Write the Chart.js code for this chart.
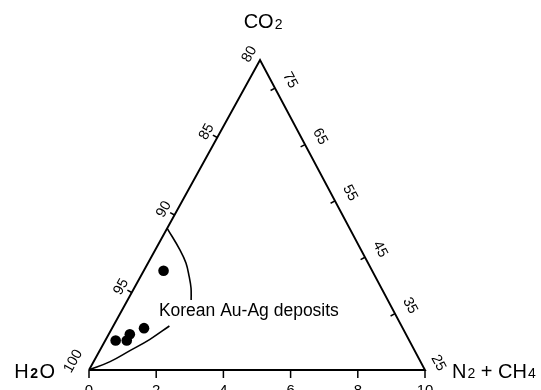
<!DOCTYPE html>
<html>
<head>
<meta charset="utf-8">
<script src="https://cdn.jsdelivr.net/npm/chart.js@4/dist/chart.umd.min.js"></script>
<style>
  html, body { margin: 0; padding: 0; background: #fff; }
  canvas { display: block; }
</style>
</head>
<body>
<canvas id="c" width="541" height="390"></canvas>
<script>
// Scale readings along the three sides of the triangle
const baseTicks  = [0, 2, 4, 6, 8, 10];              // N2 + CH4, along the base
const leftTicks  = [100, 95, 90, 85, 80];            // H2O corner up to the CO2 apex
const rightTicks = [80, 75, 65, 55, 45, 35, 25];     // CO2 apex down to the N2 + CH4 corner

// Fluid inclusion compositions (base reading, left-side reading)
const inclusionN2CH4 = [0.59, 0.95, 0.63, 0.64, 0.31];
const inclusionH2O   = [93.6, 97.3, 97.7, 98.1, 98.1];

// Boundary of the Korean Au-Ag deposits field
const fieldUpperN2CH4 = [0, 0.74, 1.13, 1.45, 1.69, 1.89];
const fieldUpperH2O   = [90.86, 92.26, 93.10, 93.98, 94.71, 95.48];
const fieldLowerN2CH4 = [0, 0.49, 0.90, 1.31, 1.67];
const fieldLowerH2O   = [100, 99.46, 98.75, 98.02, 97.16];

const fieldLabel = 'Korean Au-Ag deposits';

// Horizontal position of the CO2 apex, in base units
const APEX_X = 5.09;
const FONT = '"Liberation Sans", Arial, Helvetica, sans-serif';

// Skewed reading coordinates -> plot coordinates
function toPlot(n, h) {
  const t = (leftTicks[0] - h) / (leftTicks[0] - leftTicks[leftTicks.length - 1]);
  return { x: n + t * APEX_X, y: t };
}
const cornerH2O = toPlot(baseTicks[0], leftTicks[0]);
const cornerN2  = toPlot(baseTicks[baseTicks.length - 1], leftTicks[0]);
const cornerCO2 = toPlot(baseTicks[0], leftTicks[leftTicks.length - 1]);

function rightPoint(v) {
  const s = (rightTicks[0] - v) / (rightTicks[0] - rightTicks[rightTicks.length - 1]);
  return { x: cornerCO2.x + s * (cornerN2.x - cornerCO2.x), y: cornerCO2.y + s * (cornerN2.y - cornerCO2.y) };
}

const outline = [cornerH2O, cornerN2, cornerCO2, cornerH2O];
const upper = fieldUpperN2CH4.map((n, i) => toPlot(n, fieldUpperH2O[i]));
const lower = fieldLowerN2CH4.map((n, i) => toPlot(n, fieldLowerH2O[i]));
const inclusions = inclusionN2CH4.map((n, i) => toPlot(n, inclusionH2O[i]));

// Draws a label made of large and small (subscript) parts
function drawParts(ctx, parts, x, y, align) {
  let total = 0;
  parts.forEach(p => { ctx.font = p.font; total += ctx.measureText(p.t).width + (p.gap || 0); });
  let cx = align === 'right' ? x - total : align === 'center' ? x - total / 2 : x;
  ctx.textAlign = 'left';
  ctx.textBaseline = 'alphabetic';
  parts.forEach(p => {
    ctx.font = p.font;
    ctx.fillText(p.t, cx, y + (p.dy || 0));
    cx += ctx.measureText(p.t).width + (p.gap || 0);
  });
}

const sidesPlugin = {
  id: 'sides',
  afterDatasetsDraw(chart) {
    const ctx = chart.ctx;
    const xs = chart.scales.x, ys = chart.scales.y;
    const px = p => ({ x: xs.getPixelForValue(p.x), y: ys.getPixelForValue(p.y) });
    const H = px(cornerH2O), B = px(cornerN2), C = px(cornerCO2);

    const lenL = Math.hypot(C.x - H.x, C.y - H.y);
    const uL = { x: (C.x - H.x) / lenL, y: (C.y - H.y) / lenL };
    const nL = { x: uL.y, y: -uL.x };            // outward normal, left side
    const angL = Math.atan2(uL.y, uL.x);
    const lenR = Math.hypot(B.x - C.x, B.y - C.y);
    const uR = { x: (B.x - C.x) / lenR, y: (B.y - C.y) / lenR };
    const nR = { x: uR.y, y: -uR.x };            // outward normal, right side
    const angR = Math.atan2(uR.y, uR.x);

    ctx.save();
    ctx.strokeStyle = '#000';
    ctx.fillStyle = '#000';
    ctx.lineWidth = 1.5;

    // base ticks and labels
    ctx.font = '15px ' + FONT;
    baseTicks.forEach(v => {
      const p = px(toPlot(v, leftTicks[0]));
      ctx.beginPath(); ctx.moveTo(p.x, p.y); ctx.lineTo(p.x, p.y + 8); ctx.stroke();
      ctx.textAlign = 'center'; ctx.textBaseline = 'alphabetic';
      ctx.fillText(String(v), p.x, p.y + 25);
    });

    // left side ticks and labels
    ctx.font = '14.5px ' + FONT;
    leftTicks.forEach((v, i) => {
      const p = px(toPlot(0, v));
      const corner = i === 0 || i === leftTicks.length - 1;
      if (!corner) {
        ctx.beginPath(); ctx.moveTo(p.x, p.y); ctx.lineTo(p.x + nL.x * 5, p.y + nL.y * 5); ctx.stroke();
      }
      const d = i === 0 ? 18 : 12;
      ctx.save();
      ctx.translate(p.x + nL.x * d, p.y + nL.y * d);
      ctx.rotate(angL);
      ctx.textAlign = 'center'; ctx.textBaseline = 'middle';
      ctx.fillText(String(v), 0, 0);
      ctx.restore();
    });

    // right side ticks and labels (apex label already drawn)
    rightTicks.forEach((v, i) => {
      if (i === 0) return;
      const p = px(rightPoint(v));
      const corner = i === rightTicks.length - 1;
      if (!corner) {
        ctx.beginPath(); ctx.moveTo(p.x, p.y); ctx.lineTo(p.x - nR.x * 5, p.y - nR.y * 5); ctx.stroke();
      }
      const d = corner ? 15 : 17;
      ctx.save();
      ctx.translate(p.x + nR.x * d, p.y + nR.y * d);
      ctx.rotate(angR);
      ctx.textAlign = 'center'; ctx.textBaseline = 'middle';
      ctx.fillText(String(v), 0, 0);
      ctx.restore();
    });

    // component names at the corners
    const big = '20px ' + FONT, small = '14px ' + FONT;
    drawParts(ctx, [{ t: 'H', font: big, gap: 1.5 }, { t: '2', font: 'bold 14px ' + FONT, gap: 1.5 }, { t: 'O', font: big }],
      H.x - 34, H.y + 8, 'right');
    drawParts(ctx, [{ t: 'CO', font: big, gap: 1 }, { t: '2', font: small, dy: 1 }],
      C.x + 3, C.y - 32, 'center');
    drawParts(ctx, [{ t: 'N', font: big, gap: 1 }, { t: '2', font: small }, { t: ' + ', font: big },
      { t: 'CH', font: big, gap: 1 }, { t: '4', font: small }],
      B.x + 27, B.y + 8, 'left');

    // field name
    ctx.font = '17.5px ' + FONT;
    ctx.textAlign = 'left'; ctx.textBaseline = 'alphabetic';
    const lp = px({ x: 2.08, y: 0.174 });
    ctx.fillText(fieldLabel, lp.x, lp.y);
    ctx.restore();
  }
};

new Chart(document.getElementById('c'), {
  type: 'scatter',
  data: {
    datasets: [
      { data: outline, showLine: true, borderColor: '#000', borderWidth: 1.9, pointRadius: 0,
        tension: 0, clip: false, borderJoinStyle: 'miter' },
      { data: upper, showLine: true, borderColor: '#000', borderWidth: 1.6, pointRadius: 0,
        tension: 0.4, clip: false },
      { data: lower, showLine: true, borderColor: '#000', borderWidth: 1.6, pointRadius: 0,
        tension: 0.4, clip: false },
      { data: inclusions, pointRadius: 5.3, pointBackgroundColor: '#000', pointBorderColor: '#000',
        pointBorderWidth: 0, clip: false }
    ]
  },
  options: {
    responsive: false,
    animation: false,
    devicePixelRatio: 1,
    events: [],
    layout: { padding: { left: 89, right: 116, top: 60, bottom: 20 } },
    plugins: { legend: { display: false }, tooltip: { enabled: false } },
    scales: {
      x: { type: 'linear', min: 0, max: 10, display: false },
      y: { type: 'linear', min: 0, max: 1, display: false }
    }
  },
  plugins: [sidesPlugin]
});
</script>
</body>
</html>
